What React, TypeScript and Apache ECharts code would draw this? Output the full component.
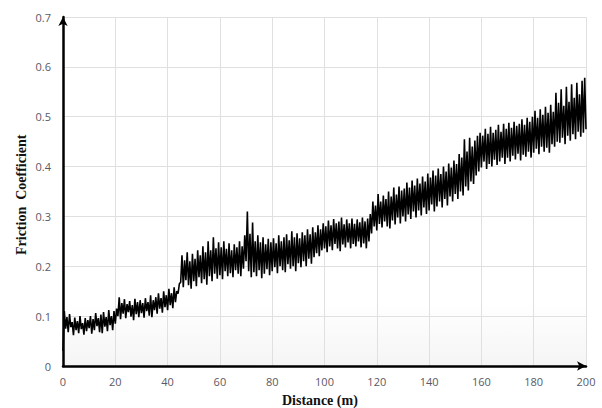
import React, { useEffect, useRef } from "react";
import * as echarts from "echarts";

// Distance (m) at each 1 m step, with a trough and a peak read per step
const distances: number[] = Array.from({ length: 201 }, (_, i) => i);

const troughs: number[] = [
  0.03, 0.075, 0.068, 0.078, 0.062, 0.072, 0.066, 0.074, 0.063, 0.07,
  0.076, 0.065, 0.072, 0.08, 0.068, 0.066, 0.079, 0.07, 0.082, 0.072,
  0.085, 0.1, 0.094, 0.105, 0.096, 0.108, 0.099, 0.092, 0.104, 0.098,
  0.106, 0.097, 0.11, 0.101, 0.098, 0.112, 0.105, 0.115, 0.107, 0.118,
  0.112, 0.122, 0.116, 0.128, 0.145, 0.168, 0.158, 0.172, 0.162, 0.155,
  0.17, 0.16, 0.178, 0.166, 0.174, 0.163, 0.18, 0.17, 0.185, 0.175,
  0.182, 0.174, 0.19, 0.18, 0.186, 0.178, 0.192, 0.185, 0.18, 0.195,
  0.21, 0.19, 0.178, 0.188, 0.18, 0.192, 0.176, 0.185, 0.194, 0.182,
  0.19, 0.198, 0.186, 0.2, 0.192, 0.188, 0.204, 0.195, 0.2, 0.19,
  0.206, 0.198, 0.21, 0.2, 0.215, 0.205, 0.218, 0.226, 0.22, 0.232,
  0.236, 0.228, 0.24, 0.232, 0.245, 0.236, 0.23, 0.244, 0.238, 0.248,
  0.236, 0.245, 0.24, 0.25, 0.238, 0.246, 0.236, 0.25, 0.266, 0.28,
  0.272, 0.285, 0.278, 0.29, 0.28, 0.276, 0.292, 0.284, 0.298, 0.286,
  0.3, 0.29, 0.304, 0.295, 0.31, 0.298, 0.312, 0.302, 0.318, 0.305,
  0.312, 0.324, 0.31, 0.32, 0.33, 0.318, 0.335, 0.322, 0.34, 0.33,
  0.345, 0.335, 0.35, 0.342, 0.36, 0.352, 0.37, 0.365, 0.382, 0.39,
  0.398, 0.41, 0.395, 0.405, 0.4, 0.414, 0.403, 0.41, 0.418, 0.405,
  0.418, 0.41, 0.422, 0.414, 0.426, 0.412, 0.424, 0.42, 0.43, 0.418,
  0.428, 0.436, 0.425, 0.44, 0.43, 0.438, 0.428, 0.445, 0.44, 0.45,
  0.448, 0.458, 0.445, 0.462, 0.452, 0.465, 0.455, 0.47, 0.46, 0.468,
  0.475,
];

const peaks: number[] = [
  0.11, 0.098, 0.104, 0.088, 0.097, 0.09, 0.1, 0.086, 0.096, 0.092,
  0.1, 0.094, 0.106, 0.096, 0.103, 0.108, 0.098, 0.112, 0.1, 0.11,
  0.115, 0.138, 0.126, 0.134, 0.124, 0.13, 0.122, 0.135, 0.128, 0.132,
  0.126, 0.136, 0.128, 0.142, 0.132, 0.138, 0.146, 0.136, 0.15, 0.142,
  0.155, 0.146, 0.158, 0.15, 0.165, 0.222, 0.212, 0.228, 0.21, 0.225,
  0.215, 0.232, 0.222, 0.24, 0.228, 0.25, 0.232, 0.258, 0.236, 0.248,
  0.238, 0.25, 0.235, 0.246, 0.232, 0.244, 0.238, 0.25, 0.24, 0.262,
  0.31, 0.265, 0.288, 0.25, 0.262, 0.248, 0.258, 0.244, 0.255, 0.248,
  0.256, 0.246, 0.262, 0.25, 0.258, 0.264, 0.252, 0.27, 0.258, 0.266,
  0.256, 0.268, 0.262, 0.274, 0.264, 0.278, 0.268, 0.282, 0.274, 0.286,
  0.28, 0.292, 0.282, 0.295, 0.286, 0.29, 0.298, 0.284, 0.294, 0.286,
  0.296, 0.285, 0.294, 0.288, 0.298, 0.29, 0.296, 0.305, 0.33, 0.322,
  0.345, 0.33, 0.342, 0.335, 0.35, 0.34, 0.358, 0.344, 0.36, 0.352,
  0.356, 0.368, 0.358, 0.372, 0.362, 0.376, 0.366, 0.38, 0.37, 0.386,
  0.378, 0.392, 0.382, 0.396, 0.385, 0.4, 0.39, 0.406, 0.398, 0.412,
  0.405, 0.425, 0.418, 0.455, 0.43, 0.458, 0.44, 0.452, 0.462, 0.468,
  0.462, 0.476, 0.466, 0.48, 0.468, 0.474, 0.484, 0.47, 0.486, 0.476,
  0.488, 0.478, 0.49, 0.482, 0.486, 0.495, 0.484, 0.498, 0.49, 0.5,
  0.512, 0.498, 0.515, 0.504, 0.52, 0.508, 0.524, 0.51, 0.548, 0.528,
  0.555, 0.522, 0.56, 0.53, 0.565, 0.538, 0.568, 0.545, 0.572, 0.578,
  0.55,
];

const xTitle = "Distance (m)";
const yTitle = "Friction  Coefficient";

export default function App() {
  const ref = useRef<HTMLDivElement>(null);

  useEffect(() => {
    document.body.style.margin = "0";
    if (!ref.current) return;
    const chart = echarts.init(ref.current, null, { renderer: "svg" });

    const lineData: [number, number][] = [];
    distances.forEach((d, i) => {
      lineData.push([d, troughs[i]]);
      if (i < distances.length - 1) lineData.push([d + 0.5, peaks[i]]);
    });

    const labelStyle = {
      color: "#595966",
      fontSize: 11,
      fontFamily: "Open Sans, Liberation Sans, sans-serif",
    };

    chart.setOption({
      animation: false,
      backgroundColor: "#ffffff",
      grid: {
        left: 63,
        right: 16,
        top: 17,
        bottom: 42,
        show: true,
        borderWidth: 0,
        backgroundColor: new echarts.graphic.LinearGradient(0, 0, 0, 1, [
          { offset: 0, color: "#ffffff" },
          { offset: 0.82, color: "#ffffff" },
          { offset: 1, color: "#f5f5f5" },
        ]),
      },
      xAxis: {
        type: "value",
        min: 0,
        max: 200,
        interval: 20,
        axisLine: {
          show: true,
          symbol: ["none", "arrow"],
          symbolSize: [7, 9],
          lineStyle: { color: "#000", width: 2.5 },
        },
        axisTick: { show: false },
        axisLabel: { ...labelStyle, margin: 10 },
        splitLine: { show: true, lineStyle: { color: "#e0e0e0", width: 1 } },
      },
      yAxis: {
        type: "value",
        min: 0,
        max: 0.7,
        interval: 0.1,
        axisLine: {
          show: true,
          symbol: ["none", "arrow"],
          symbolSize: [7, 9],
          lineStyle: { color: "#000", width: 2.5 },
        },
        axisTick: { show: false },
        axisLabel: {
          ...labelStyle,
          margin: 12,
          formatter: (v: number) => (v === 0 ? "0" : String(Math.round(v * 10) / 10)),
        },
        splitLine: { show: true, lineStyle: { color: "#e0e0e0", width: 1 } },
      },
      graphic: [
        {
          type: "text",
          left: 282,
          top: 393,
          style: {
            text: xTitle,
            font: "bold 14px 'Liberation Serif', 'DejaVu Serif', serif",
            fill: "#111",
          },
        },
        {
          type: "text",
          x: 14,
          y: 255,
          rotation: Math.PI / 2,
          style: {
            text: yTitle,
            font: "bold 14px 'Liberation Serif', 'DejaVu Serif', serif",
            fill: "#111",
            textAlign: "left",
            textVerticalAlign: "top",
          },
        },
      ],
      series: [
        {
          type: "line",
          data: lineData,
          showSymbol: false,
          symbol: "none",
          lineStyle: { color: "#000", width: 1.6 },
        },
      ],
    });

    return () => chart.dispose();
  }, []);

  return <div ref={ref} style={{ width: 602, height: 408 }} />;
}
